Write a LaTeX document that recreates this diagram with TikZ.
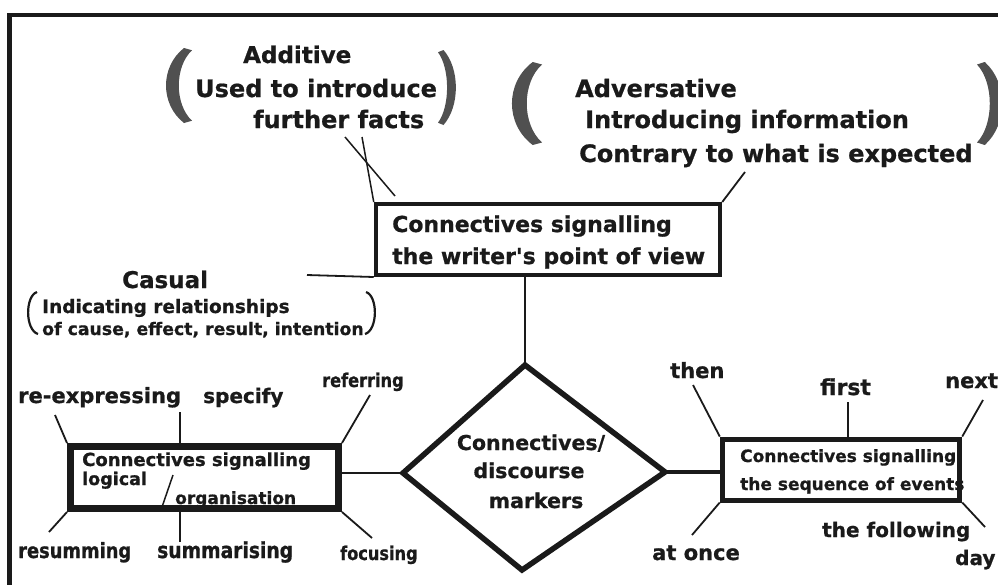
\documentclass[tikz,border=0pt]{standalone}
\usepackage{fontspec}
\setmainfont{DejaVu Sans}[Ligatures=TeXOff, BoldFeatures={FakeBold=0.8}]
\newfontfamily\dvn{DejaVu Sans Bold}[Ligatures=TeXOff, FakeStretch=0.85, FakeBold=0.8]
\newcommand\fsz[1]{\fontsize{#1}{#1}\selectfont\bfseries}
\newcommand\fsn[1]{\fontsize{#1}{#1}\dvn}
\definecolor{ink}{HTML}{1A1A1A}
\definecolor{pgrey}{HTML}{505050}
\begin{document}
\begin{tikzpicture}[x=1pt,y=-1pt,
  lbl/.style={inner sep=0pt, anchor=base west, text=ink},
  ctr/.style={inner sep=0pt, anchor=base, text=ink},
  box/.style={draw=ink, rectangle, inner sep=0pt},
  conn/.style={draw=ink, line width=1.8pt},
  bigparen/.pic={\fill[pgrey] (0.75,0) .. controls (0,0.25) and (0,0.75) .. (0.75,1) -- (1,0.97) .. controls (0.45,0.75) and (0.45,0.25) .. (1,0.03) -- cycle;}
]
\useasboundingbox (0,0) rectangle (998,584);
\clip (0,0) rectangle (998,584);
\fill[white] (0,0) rectangle (998,584);
% frame
\draw[ink, line width=4.5pt] (9.5,600) -- (9.5,15) -- (1010,15);

% big parentheses
\path (160,48) pic[xscale=32,yscale=75] {bigparen};
\path (460,50) pic[xscale=-22,yscale=75] {bigparen};
\path (505,62) pic[xscale=37,yscale=83] {bigparen};
\path (1008,62) pic[xscale=-31,yscale=83] {bigparen};
% small parentheses (Casual)
\draw[ink, line width=2.2pt] (37,292) .. controls (25,296) and (25,330) .. (38,334);
\draw[ink, line width=2.2pt] (366,292) .. controls (378,296) and (378,330) .. (365,334);

% Additive
\node[lbl,font=\fsz{23}] (add1) at (243,63) {Additive};
\node[lbl,font=\fsz{24}] (add2) at (195,97) {Used to introduce};
\node[lbl,font=\fsz{24}] (add3) at (253,128) {further facts};
% Adversative
\node[lbl,font=\fsz{24}] (adv1) at (575,97) {Adversative};
\node[lbl,font=\fsz{24}] (adv2) at (585,128) {Introducing information};
\node[lbl,font=\fsz{24}] (adv3) at (579,162) {Contrary to what is expected};
% Casual
\node[lbl,font=\fsz{23}] (cas1) at (122,288) {Casual};
\node[lbl,font=\fsz{18.5}] (cas2) at (42,313) {Indicating relationships};
\node[lbl,font=\fsz{17.3}] (cas3) at (42,335) {of cause, effect, result, intention};

% writer box
\node[box, line width=4pt, minimum width=344.5pt, minimum height=71pt] (wbox) at (548,239.5) {};
\node[lbl,font=\fsz{22}] (w1) at (392,232) {Connectives signalling};
\node[lbl,font=\fsz{22}] (w2) at (392,264) {the writer's point of view};

% diamond
\coordinate (dT) at (525,365);
\coordinate (dR) at (665,472);
\coordinate (dB) at (522,570);
\coordinate (dL) at (403,473);
\draw[ink, line width=5.5pt, line join=miter] (dT) -- (dR) -- (dB) -- (dL) -- cycle;
\node[ctr,font=\fsz{20.5}] (d1) at (531,450) {Connectives/};
\node[ctr,font=\fsz{20.5}] (d2) at (529,478) {discourse};
\node[ctr,font=\fsz{20.5}] (d3) at (536,508) {markers};

% logical box
\node[box, line width=7pt, minimum width=268pt, minimum height=62pt] (lbox) at (204.5,477.5) {};
\node[lbl,font=\fsz{18}] (l1) at (82,466) {Connectives signalling};
\node[lbl,font=\fsz{17.5}] (l2) at (82,485) {logical};
\node[lbl,font=\fsz{17}] (l3) at (175,504) {organisation};
\coordinate (sl1) at (173,475);
\coordinate (sl2) at (162,507);
\draw[conn, line width=1.5pt] (sl1) -- (sl2);

% sequence box
\node[box, line width=5pt, minimum width=237.5pt, minimum height=61pt] (sbox) at (841,469.5) {};
\node[lbl,font=\fsz{17}] (s1) at (740,462) {Connectives signalling};
\node[lbl,font=\fsz{17}] (s2) at (740,490) {the sequence of events};

% labels around logical box
\node[lbl,font=\fsz{21}] (reexp) at (18,403) {re-expressing};
\node[lbl,font=\fsz{20}] (spec) at (203,403) {specify};
\node[lbl,font=\fsn{19}] (refer) at (322,387) {referring};
\node[lbl,font=\fsn{21}] (resum) at (18,558) {resumming};
\node[lbl,font=\fsn{22}] (summ) at (157,558) {summarising};
\node[lbl,font=\fsn{19}] (focus) at (340,560) {focusing};
% labels around sequence box
\node[lbl,font=\fsz{21}] (then) at (670,378) {then};
\node[lbl,font=\fsz{22}] (first) at (820,395) {first};
\node[lbl,font=\fsz{21}] (next) at (945,388) {next};
\node[lbl,font=\fsz{21}] (atonce) at (652,560) {at once};
\node[lbl,font=\fsz{20}] (foll) at (822,537) {the following};
\node[lbl,font=\fsz{20}] (day) at (955,565) {day};

% free ends
\coordinate (casEnd) at (307,275);
\coordinate (advEnd) at (745,172);
\coordinate (addA) at (362,137);
\coordinate (addB1) at (345,137);
\coordinate (addB2) at (395,196);
\coordinate (cReexp) at (55,415);
\coordinate (cSpec) at (180,412);
\coordinate (cRefer) at (370,395);
\coordinate (cResum) at (49,532);
\coordinate (cSumm) at (180,542);
\coordinate (cFocus) at (372,538);
\coordinate (cThen) at (693,385);
\coordinate (cFirst) at (848,402);
\coordinate (cNext) at (983,400);
\coordinate (cAtonce) at (692,535);
\coordinate (cFoll) at (985,527);

% connectors
\draw[conn] (wbox.south west) -- (casEnd);
\draw[conn] (wbox.north east) -- (advEnd);
\draw[conn, line width=1.5pt] (wbox.north west) -- (addA);
\draw[conn, line width=1.5pt] (addB1) -- (addB2);
\draw[conn] (wbox.south -| dT) -- (dT);
\draw[conn] (dL) -- (dL -| lbox.east);
\draw[conn, line width=4pt] (dR) -- (dR -| sbox.west);

\draw[conn] (lbox.north west) -- (cReexp);
\draw[conn] (cSpec |- lbox.north) -- (cSpec);
\draw[conn] (lbox.north east) -- (cRefer);
\draw[conn] (lbox.south west) -- (cResum);
\draw[conn] (cSumm |- lbox.south) -- (cSumm);
\draw[conn] (lbox.south east) -- (cFocus);

\draw[conn] (sbox.north west) -- (cThen);
\draw[conn] (cFirst |- sbox.north) -- (cFirst);
\draw[conn] (sbox.north east) -- (cNext);
\draw[conn] (sbox.south west) -- (cAtonce);
\draw[conn] (sbox.south east) -- (cFoll);
\end{tikzpicture}
\end{document}
